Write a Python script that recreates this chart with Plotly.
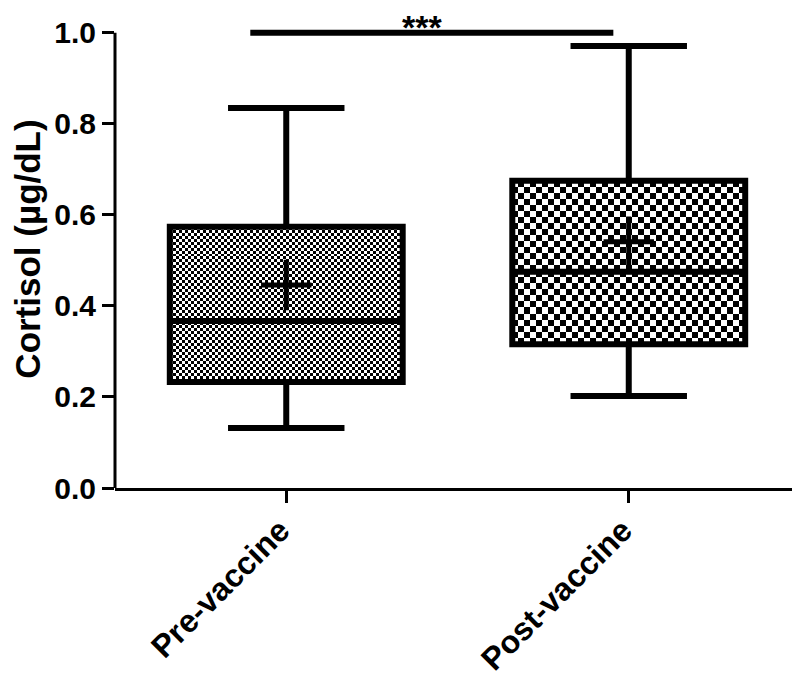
import numpy as np
import plotly.graph_objects as go

# ---- data ----
groups = ["Pre-vaccine", "Post-vaccine"]
positions = [0, 1]
q1 = [0.233, 0.316]
median = [0.367, 0.475]
q3 = [0.574, 0.675]
lower_whisker = [0.132, 0.202]
upper_whisker = [0.835, 0.971]
means = [0.446, 0.541]
y_tick_vals = [0.0, 0.2, 0.4, 0.6, 0.8, 1.0]
y_tick_text = ["0.0", "0.2", "0.4", "0.6", "0.8", "1.0"]
sig_x = [-0.105, 0.955]
sig_y = 1.0
sig_label = "***"

# ---- style ----
W, H = 800, 684
# page body has an 8px margin, so the figure is offset by (8, 8)
M_L, M_R, M_T, M_B = 107, 8, 2, 204
X_RANGE = [-0.5, 1.5]
Y_RANGE = [0, 1.05]
BOX_W = 0.68
CELL_PX = [3, 6]  # checkerboard cell size per group
FAM = "Liberation Sans, Arial, sans-serif"
TICK_FONT = dict(family=FAM, size=30, color="black", weight="bold")
XTICK_FONT = dict(family=FAM, size=32, color="black", weight="bold")
TITLE_FONT = dict(family=FAM, size=35, color="black", weight="bold")

px_per_x = (W - M_L - M_R) / (X_RANGE[1] - X_RANGE[0])
px_per_y = (H - M_T - M_B) / (Y_RANGE[1] - Y_RANGE[0])

fig = go.Figure()

# checkerboard fills
for i, pos in enumerate(positions):
    cell = CELL_PX[i]
    w_px = BOX_W * px_per_x
    h_px = (q3[i] - q1[i]) * px_per_y
    nx = max(2, int(round(w_px / cell)))
    ny = max(2, int(round(h_px / cell)))
    xe = np.linspace(pos - BOX_W / 2, pos + BOX_W / 2, nx + 1)
    ye = np.linspace(q1[i], q3[i], ny + 1)
    z = (np.add.outer(np.arange(ny), np.arange(nx)) % 2).astype(float)
    fig.add_trace(go.Heatmap(
        x=xe, y=ye, z=z, zmin=0, zmax=1,
        colorscale=[[0, "white"], [1, "black"]],
        showscale=False, hoverinfo="skip", zsmooth=False,
    ))

# boxes
for i, pos in enumerate(positions):
    fig.add_trace(go.Box(
        x=[pos], q1=[q1[i]], median=[median[i]], q3=[q3[i]],
        lowerfence=[lower_whisker[i]], upperfence=[upper_whisker[i]],
        width=BOX_W, whiskerwidth=0.5,
        line=dict(color="black", width=6),
        fillcolor="rgba(0,0,0,0)", boxpoints=False,
        showlegend=False, hoverinfo="skip",
    ))

# means as "+"
fig.add_trace(go.Scatter(
    x=positions, y=means, mode="markers",
    marker=dict(symbol="cross-thin", size=36, color="black",
                line=dict(color="black", width=5)),
    showlegend=False, hoverinfo="skip",
))

# significance bar
fig.add_trace(go.Scatter(
    x=sig_x, y=[sig_y, sig_y], mode="lines",
    line=dict(color="black", width=6),
    showlegend=False, hoverinfo="skip",
))
fig.add_annotation(
    x=float(np.mean(sig_x)) - 0.03, xref="x", y=1, yref="paper", yanchor="top",
    yshift=3, text=sig_label, showarrow=False, borderpad=0,
    font=dict(family=FAM, size=34, color="black", weight="bold"),
)

# y axis line (only from 0 to 1.0)
fig.add_shape(type="line", xref="paper", x0=0, x1=0, yref="y",
              y0=y_tick_vals[0], y1=y_tick_vals[-1],
              line=dict(color="black", width=3))

fig.update_layout(
    width=W, height=H,
    margin=dict(l=M_L, r=M_R, t=M_T, b=M_B, autoexpand=False),
    plot_bgcolor="white", paper_bgcolor="white",
    font=TICK_FONT, showlegend=False,
)
fig.update_xaxes(
    range=X_RANGE, tickvals=positions, ticktext=groups, tickangle=-45,
    showline=True, linecolor="black", linewidth=3, mirror=False,
    ticks="outside", ticklen=12, tickwidth=3, tickcolor="black",
    ticklabelstandoff=-4, ticklabelshift=-6,
    showgrid=False, zeroline=False, tickfont=XTICK_FONT, automargin=False,
)
fig.update_yaxes(
    range=Y_RANGE, tickvals=y_tick_vals, ticktext=y_tick_text,
    showline=False, ticks="outside", ticklen=12, tickwidth=3, tickcolor="black",
    showgrid=False, zeroline=False, tickfont=TICK_FONT, automargin=False,
    title=dict(text="Cortisol (µg/dL)", font=TITLE_FONT, standoff=12),
)

fig.write_html("out.html")
